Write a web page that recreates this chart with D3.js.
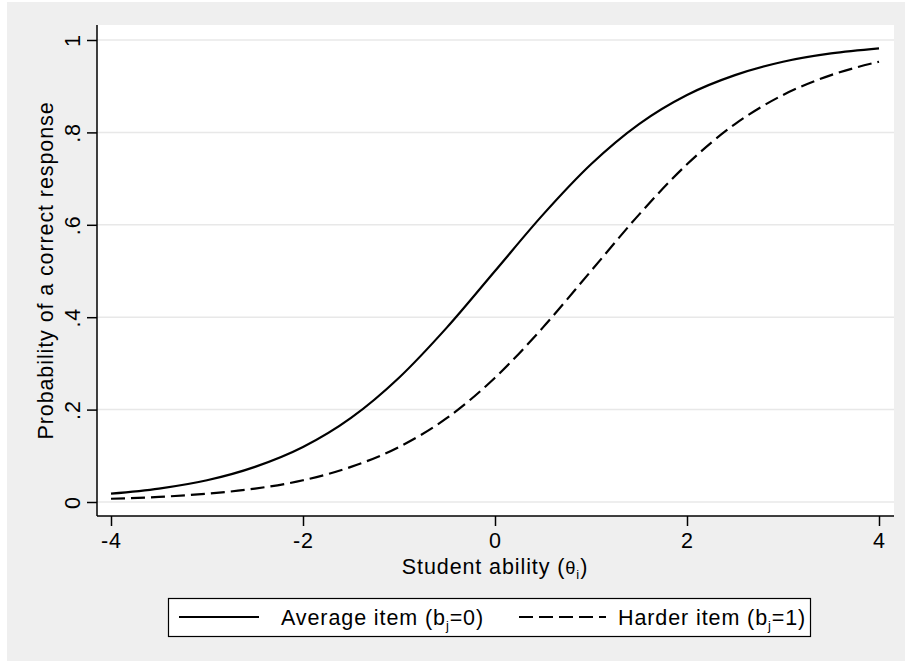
<!DOCTYPE html>
<html>
<head>
<meta charset="utf-8">
<script src="https://cdn.jsdelivr.net/npm/d3@7"></script>
<style>
  html, body { margin: 0; padding: 0; background: #ffffff; }
  svg { display: block; }
  text { font-family: "Liberation Sans", Arial, Helvetica, sans-serif; fill: #000; }
</style>
</head>
<body>
<svg id="chart" width="905" height="661"></svg>
<script>
// ---- data ----
const theta = [-4, -3.5, -3, -2.5, -2, -1.5, -1, -0.5, 0, 0.5, 1, 1.5, 2, 2.5, 3, 3.5, 4];
const averageItem = [0.018, 0.029, 0.047, 0.076, 0.119, 0.182, 0.269, 0.378, 0.5, 0.622, 0.731, 0.818, 0.881, 0.924, 0.953, 0.971, 0.982];
const harderItem  = [0.007, 0.011, 0.018, 0.029, 0.047, 0.076, 0.119, 0.182, 0.269, 0.378, 0.5, 0.622, 0.731, 0.818, 0.881, 0.924, 0.953];
const xTicks = [-4, -2, 0, 2, 4];
const xTickLabels = ["-4", "-2", "0", "2", "4"];
const yTicks = [0, 0.2, 0.4, 0.6, 0.8, 1];
const yTickLabels = ["0", ".2", ".4", ".6", ".8", "1"];
const seriesNames = ["Average item", "Harder item"];
const seriesB = ["0", "1"];

// ---- layout ----
const svg = d3.select("#chart");
const W = 905, H = 661;
const plot = { left: 97, right: 894, top: 25, bottom: 516 };
const FS = 21.5;
const LS = "0.9px";

// outer gray background
svg.append("rect").attr("x", 7).attr("y", 2).attr("width", W - 7).attr("height", H - 2).attr("fill", "#efefef");

// plot region
svg.append("rect").attr("x", plot.left).attr("y", plot.top)
  .attr("width", plot.right - plot.left).attr("height", plot.bottom - plot.top).attr("fill", "#ffffff");

const x = d3.scaleLinear().domain([-4, 4]).range([111, 879]);
const y = d3.scaleLinear().domain([0, 1]).range([502, 40]);

// gridlines
svg.append("g").selectAll("line").data(yTicks).join("line")
  .attr("x1", plot.left).attr("x2", plot.right)
  .attr("y1", d => y(d)).attr("y2", d => y(d))
  .attr("stroke", "#e8e8e8").attr("stroke-width", 1.5);

// y axis
const yAxis = d3.axisLeft(y).tickValues(yTicks).tickFormat((d, i) => yTickLabels[i]).tickSize(10).tickPadding(3);
const gy = svg.append("g").attr("transform", `translate(${plot.left},0)`).call(yAxis);
gy.select(".domain").attr("d", `M0,${plot.top}V${plot.bottom}`).attr("stroke", "#000").attr("stroke-width", 1.5);
gy.selectAll(".tick line").attr("stroke", "#000").attr("stroke-width", 1.5);
gy.selectAll(".tick text")
  .attr("x", null).attr("dy", null)
  .attr("transform", "translate(-17,0) rotate(-90)")
  .attr("text-anchor", "middle")
  .style("font-size", FS + "px").style("letter-spacing", LS)
  .style("font-family", "'Liberation Sans', Arial, sans-serif");

// x axis
const xAxis = d3.axisBottom(x).tickValues(xTicks).tickFormat((d, i) => xTickLabels[i]).tickSize(10).tickPadding(6);
const gx = svg.append("g").attr("transform", `translate(0,${plot.bottom})`).call(xAxis);
gx.select(".domain").attr("d", `M${plot.left},0H${plot.right}`).attr("stroke", "#000").attr("stroke-width", 1.5);
gx.selectAll(".tick line").attr("stroke", "#000").attr("stroke-width", 1.5);
gx.selectAll(".tick text")
  .attr("dy", null).attr("y", 32)
  .style("font-size", FS + "px").style("letter-spacing", LS)
  .style("font-family", "'Liberation Sans', Arial, sans-serif");

// axis titles
const xt = svg.append("text").attr("x", 495).attr("y", 574).attr("text-anchor", "middle")
  .style("font-size", FS + "px").style("letter-spacing", LS);
xt.append("tspan").text("Student ability (");
xt.append("tspan").text("θ").style("font-size", (FS * 0.85) + "px");
xt.append("tspan").text("i").attr("dy", 5).style("font-size", (FS * 0.6) + "px");
xt.append("tspan").text(")").attr("dy", -5);

svg.append("text").attr("transform", `translate(53,${(plot.top + plot.bottom) / 2}) rotate(-90)`)
  .attr("text-anchor", "middle")
  .style("font-size", FS + "px").style("letter-spacing", LS)
  .text("Probability of a correct response");

// curves
const line = d3.line().x(d => x(d[0])).y(d => y(d[1])).curve(d3.curveMonotoneX);
const avgPts = theta.map((t, i) => [t, averageItem[i]]);
const hardPts = theta.map((t, i) => [t, harderItem[i]]);
svg.append("path").attr("d", line(avgPts)).attr("fill", "none").attr("stroke", "#000").attr("stroke-width", 2.2);
svg.append("path").attr("d", line(hardPts)).attr("fill", "none").attr("stroke", "#000").attr("stroke-width", 2.2)
  .attr("stroke-dasharray", "14,6");

// legend
const lg = svg.append("g");
lg.append("rect").attr("x", 168.5).attr("y", 598.5).attr("width", 642).attr("height", 38)
  .attr("fill", "#fff").attr("stroke", "#000").attr("stroke-width", 1.2);
const legendItems = [
  { name: seriesNames[0], b: seriesB[0], x1: 179, x2: 259, tx: 281, dash: null },
  { name: seriesNames[1], b: seriesB[1], x1: 519, x2: 606, tx: 618, dash: "14,6" }
];
legendItems.forEach(it => {
  lg.append("line").attr("x1", it.x1).attr("x2", it.x2).attr("y1", 617).attr("y2", 617)
    .attr("stroke", "#000").attr("stroke-width", 2.2).attr("stroke-dasharray", it.dash);
  const t = lg.append("text").attr("x", it.tx).attr("y", 625)
    .style("font-size", FS + "px").style("letter-spacing", LS);
  t.append("tspan").text(it.name + " (b");
  t.append("tspan").text("j").attr("dy", 5).style("font-size", (FS * 0.6) + "px");
  t.append("tspan").text("=" + it.b + ")").attr("dy", -5);
});
</script>
</body>
</html>
